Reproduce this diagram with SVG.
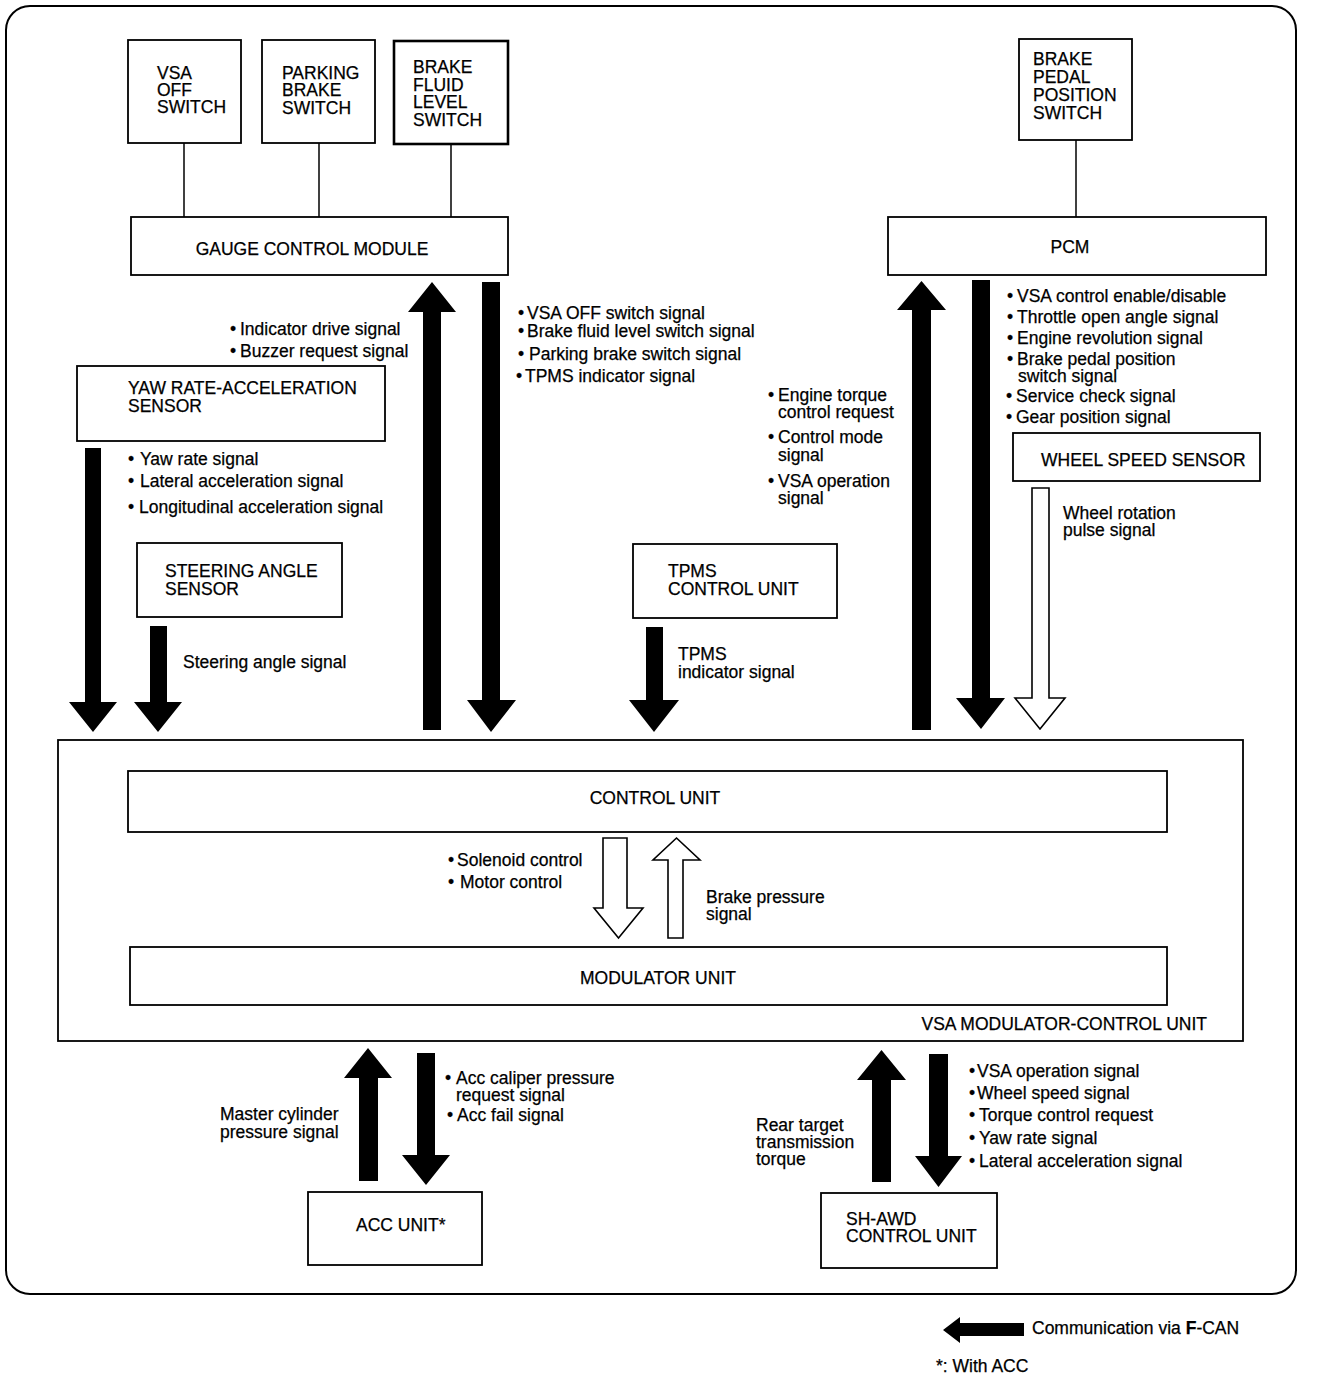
<svg xmlns="http://www.w3.org/2000/svg" width="1328" height="1380" viewBox="0 0 1328 1380">
<style>
text{font-family:"Liberation Sans",Arial,sans-serif;font-size:17.5px;fill:#000;stroke:#000;stroke-width:0.25}
.box{fill:#fff;stroke:#000;stroke-width:1.8}
.thick{stroke-width:2.6}
.wire{stroke:#000;stroke-width:1.5;fill:none}
.solid{fill:#000;stroke:none}
.hollow{fill:#fff;stroke:#000;stroke-width:1.6}
.mid{text-anchor:middle}
</style>
<rect width="1328" height="1380" fill="#fff"/>
<rect x="6" y="6" width="1290" height="1288" rx="24" ry="24" fill="none" stroke="#000" stroke-width="2"/>

<g id="vsa-off-switch"><rect class="box" x="128" y="40" width="113" height="103"/>
<text x="157" y="79">VSA<tspan x="157" dy="17">OFF</tspan><tspan x="157" dy="17">SWITCH</tspan></text></g>
<g id="parking-brake-switch"><rect class="box" x="262" y="40" width="113" height="103"/>
<text x="282" y="79">PARKING<tspan x="282" dy="17">BRAKE</tspan><tspan x="282" dy="18">SWITCH</tspan></text></g>
<g id="brake-fluid-level-switch"><rect class="box thick" x="394" y="41" width="114" height="103"/>
<text x="413" y="73">BRAKE<tspan x="413" dy="18">FLUID</tspan><tspan x="413" dy="17">LEVEL</tspan><tspan x="413" dy="18">SWITCH</tspan></text></g>
<g id="gauge-control-module"><rect class="box" x="131" y="217" width="377" height="58"/>
<text class="mid" x="312" y="255">GAUGE CONTROL MODULE</text></g>
<g id="brake-pedal-position-switch"><rect class="box" x="1019" y="39" width="113" height="101"/>
<text x="1033" y="65">BRAKE<tspan x="1033" dy="18">PEDAL</tspan><tspan x="1033" dy="18">POSITION</tspan><tspan x="1033" dy="18">SWITCH</tspan></text></g>
<g id="pcm"><rect class="box" x="888" y="217" width="378" height="58"/>
<text class="mid" x="1070" y="253">PCM</text></g>
<g id="yaw-rate-sensor"><rect class="box" x="77" y="366" width="308" height="75"/>
<text x="128" y="394">YAW RATE-ACCELERATION<tspan x="128" dy="18">SENSOR</tspan></text></g>
<g id="steering-angle-sensor"><rect class="box" x="137" y="543" width="205" height="74"/>
<text x="165" y="577">STEERING ANGLE<tspan x="165" dy="18">SENSOR</tspan></text></g>
<g id="tpms-control-unit"><rect class="box" x="633" y="544" width="204" height="74"/>
<text x="668" y="577">TPMS<tspan x="668" dy="18">CONTROL UNIT</tspan></text></g>
<g id="wheel-speed-sensor"><rect class="box" x="1013" y="433" width="247" height="48"/>
<text x="1041" y="466">WHEEL SPEED SENSOR</text></g>
<g id="vsa-modulator-control-unit"><rect class="box" x="58" y="740" width="1185" height="301" stroke-width="2"/>
<text x="1207" y="1030" text-anchor="end">VSA MODULATOR-CONTROL UNIT</text></g>
<g id="control-unit"><rect class="box" x="128" y="771" width="1039" height="61"/>
<text class="mid" x="655" y="804">CONTROL UNIT</text></g>
<g id="modulator-unit"><rect class="box" x="130" y="947" width="1037" height="58"/>
<text class="mid" x="658" y="984">MODULATOR UNIT</text></g>
<g id="acc-unit"><rect class="box" x="308" y="1192" width="174" height="73"/>
<text x="356" y="1231">ACC UNIT*</text></g>
<g id="sh-awd-control-unit"><rect class="box" x="821" y="1193" width="176" height="75"/>
<text x="846" y="1225">SH-AWD<tspan x="846" dy="17">CONTROL UNIT</tspan></text></g>

<g id="connectors">
<line class="wire" x1="184" y1="143" x2="184" y2="217"/>
<line class="wire" x1="319" y1="143" x2="319" y2="217"/>
<line class="wire" x1="451" y1="144" x2="451" y2="217"/>
<line class="wire" x1="1076" y1="140" x2="1076" y2="217"/>
<polygon class="solid" points="423,730 423,312 408,312 432,282 456,312 441,312 441,730"/>
<polygon class="solid" points="482,282 500,282 500,700 516,700 491,732 467,700 482,700"/>
<polygon class="solid" points="85,448 101,448 101,702 117,702 93,732 69,702 85,702"/>
<polygon class="solid" points="150,626 167,626 167,702 182,702 158,732 134,702 150,702"/>
<polygon class="solid" points="646,627 663,627 663,700 679,700 654,732 629,700 646,700"/>
<polygon class="solid" points="912,730 912,310 897,310 921.5,281 946,310 931,310 931,730"/>
<polygon class="solid" points="972,280 990,280 990,698 1005,698 981,729 956,698 972,698"/>
<polygon class="hollow" points="1032,488 1049,488 1049,698 1065,698 1040,729 1015,698 1032,698"/>
<polygon class="hollow" points="603,838 627,838 627,908 643,908 618.5,938 594,908 603,908"/>
<polygon class="hollow" points="668,938 668,860 653,860 676.5,838 700,860 683,860 683,938"/>
<polygon class="solid" points="359,1181 359,1078 344,1078 368,1048 392,1078 378,1078 378,1181"/>
<polygon class="solid" points="417,1053 435,1053 435,1155 450,1155 426,1185 402,1155 417,1155"/>
<polygon class="solid" points="872,1182 872,1080 857,1080 881.5,1050 906,1080 891,1080 891,1182"/>
<polygon class="solid" points="929,1054 948,1054 948,1156 962,1156 938.5,1187 915,1156 929,1156"/>
</g>

<g id="labels">
<text x="230" y="335">• <tspan x="240">Indicator drive signal</tspan><tspan x="230" dy="22">•</tspan><tspan x="240">Buzzer request signal</tspan></text>
<text x="518" y="319">•<tspan x="527">VSA OFF switch signal</tspan><tspan x="518" dy="18">•</tspan><tspan x="527">Brake fluid level switch signal</tspan><tspan x="518" dy="23">•</tspan><tspan x="529">Parking brake switch signal</tspan><tspan x="516" dy="22">•</tspan><tspan x="525">TPMS indicator signal</tspan></text>
<text x="128" y="465">•<tspan x="140">Yaw rate signal</tspan><tspan x="128" dy="22">•</tspan><tspan x="140">Lateral acceleration signal</tspan><tspan x="128" dy="26">•</tspan><tspan x="139">Longitudinal acceleration signal</tspan></text>
<text x="183" y="668">Steering angle signal</text>
<text x="678" y="660">TPMS<tspan x="678" dy="18">indicator signal</tspan></text>
<text x="768" y="401">•<tspan x="778">Engine torque</tspan><tspan x="778" dy="17">control request</tspan></text>
<text x="768" y="443">•<tspan x="778">Control mode</tspan><tspan x="778" dy="18">signal</tspan></text>
<text x="768" y="487">•<tspan x="778">VSA operation</tspan><tspan x="778" dy="17">signal</tspan></text>
<text x="1007" y="302">•<tspan x="1017">VSA control enable/disable</tspan><tspan x="1007" dy="21">•</tspan><tspan x="1017">Throttle open angle signal</tspan><tspan x="1007" dy="21">•</tspan><tspan x="1017">Engine revolution signal</tspan><tspan x="1007" dy="21">•</tspan><tspan x="1017">Brake pedal position</tspan><tspan x="1018" dy="17">switch signal</tspan><tspan x="1006" dy="20">•</tspan><tspan x="1016">Service check signal</tspan><tspan x="1006" dy="21">•</tspan><tspan x="1016">Gear position signal</tspan></text>
<text x="1063" y="519">Wheel rotation<tspan x="1063" dy="17">pulse signal</tspan></text>
<text x="448" y="866">•<tspan x="457">Solenoid control</tspan><tspan x="448" dy="22">•</tspan><tspan x="460">Motor control</tspan></text>
<text x="706" y="903">Brake pressure<tspan x="706" dy="17">signal</tspan></text>
<text x="220" y="1120">Master cylinder<tspan x="220" dy="18">pressure signal</tspan></text>
<text x="445" y="1084">•<tspan x="456">Acc caliper pressure</tspan><tspan x="456" dy="17">request signal</tspan><tspan x="447" dy="20">•</tspan><tspan x="457">Acc fail signal</tspan></text>
<text x="756" y="1131">Rear target<tspan x="756" dy="17">transmission</tspan><tspan x="756" dy="17">torque</tspan></text>
<text x="969" y="1077">•<tspan x="977">VSA operation signal</tspan><tspan x="969" dy="22">•</tspan><tspan x="977">Wheel speed signal</tspan><tspan x="969" dy="22">•</tspan><tspan x="979">Torque control request</tspan><tspan x="969" dy="23">•</tspan><tspan x="979">Yaw rate signal</tspan><tspan x="969" dy="23">•</tspan><tspan x="979">Lateral acceleration signal</tspan></text>
</g>

<g id="legend">
<polygon class="solid" points="943,1330 960,1317 960,1323 1024,1323 1024,1336 960,1336 960,1343"/>
<text x="1032" y="1334">Communication via <tspan font-weight="bold">F</tspan>-CAN</text>
<text x="936" y="1372">*: With ACC</text>
</g>
</svg>
